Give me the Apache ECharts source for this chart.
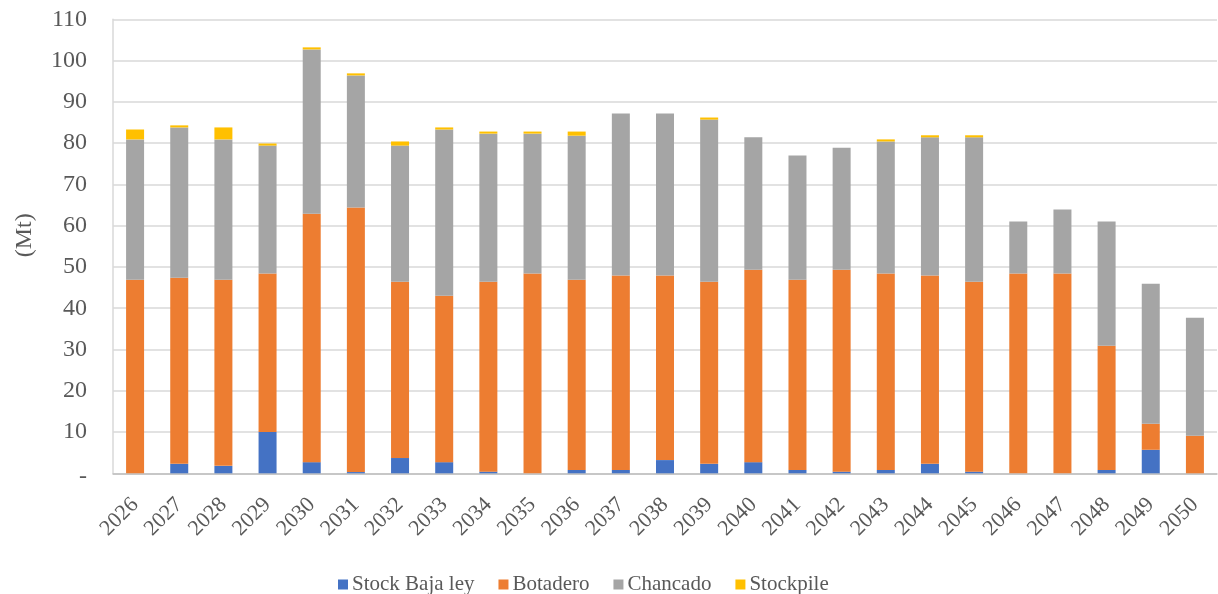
<!DOCTYPE html>
<html>
<head>
<meta charset="utf-8">
<script src="https://cdn.jsdelivr.net/npm/echarts@6/dist/echarts.min.js"></script>
<style>
  html, body { margin: 0; padding: 0; background: #ffffff; }
  #chart { width: 1218px; height: 594px; }
</style>
</head>
<body>
<div id="chart"></div>
<script>
// Annual tonnage by destination (Mt)
const years = ['2026','2027','2028','2029','2030','2031','2032','2033','2034','2035','2036','2037','2038',
               '2039','2040','2041','2042','2043','2044','2045','2046','2047','2048','2049','2050'];

const stockBajaLey = [0, 2.3, 1.8, 10.0, 2.7, 0.3, 3.7, 2.7, 0.4, 0, 0.8, 0.8, 3.2,
                      2.3, 2.7, 0.8, 0.4, 0.8, 2.3, 0.4, 0, 0, 0.8, 5.7, 0];
const botadero = [46.9, 45.1, 45.1, 38.4, 60.2, 64.1, 42.7, 40.3, 46.0, 48.4, 46.1, 47.1, 44.7,
                  44.1, 46.6, 46.1, 48.9, 47.6, 45.6, 46.0, 48.4, 48.4, 30.1, 6.3, 9.1];
const chancado = [34.0, 36.4, 34.0, 31.0, 39.8, 32.0, 33.0, 40.3, 35.9, 33.9, 34.9, 39.3, 39.3,
                  39.3, 32.1, 30.1, 29.6, 32.0, 33.5, 35.0, 12.6, 15.5, 30.1, 33.9, 28.6];
const stockpile = [2.4, 0.5, 2.9, 0.5, 0.5, 0.5, 1.0, 0.5, 0.5, 0.5, 1.0, 0, 0,
                   0.5, 0, 0, 0, 0.5, 0.5, 0.5, 0, 0, 0, 0, 0];

const yTicks = { min: 0, max: 110, step: 10 };

const seriesDefs = [
  { name: 'Stock Baja ley', data: stockBajaLey, color: '#4472C4' },
  { name: 'Botadero',       data: botadero,     color: '#ED7D31' },
  { name: 'Chancado',       data: chancado,     color: '#A5A5A5' },
  { name: 'Stockpile',      data: stockpile,    color: '#FFC000' }
];

const FONT = '"Liberation Serif", "DejaVu Serif", serif';
const TXT = '#595959';

const chart = echarts.init(document.getElementById('chart'), null, { renderer: 'canvas' });

chart.setOption({
  backgroundColor: '#ffffff',
  animation: false,
  grid: { left: 113, right: 1, top: 19.3, bottom: 120.7, containLabel: false },
  legend: {
    data: seriesDefs.map(s => s.name),
    left: 333,
    top: 569,
    icon: 'rect',
    itemWidth: 10,
    itemHeight: 10,
    itemGap: 24,
    textStyle: { fontFamily: FONT, fontSize: 21, color: TXT, padding: [0, 0, 0, -1] }
  },
  xAxis: {
    type: 'category',
    data: years,
    axisLine: { show: true, lineStyle: { color: '#BFBFBF', width: 1.5 } },
    axisTick: { show: false },
    axisLabel: {
      rotate: 45,
      margin: 28,
      interval: 0,
      fontFamily: FONT,
      fontSize: 22,
      color: TXT
    }
  },
  yAxis: {
    type: 'value',
    min: yTicks.min,
    max: yTicks.max,
    interval: yTicks.step,
    name: '(Mt)',
    nameLocation: 'middle',
    nameGap: 76,
    nameRotate: 90,
    nameTextStyle: { fontFamily: FONT, fontSize: 24, color: TXT, padding: [0, 0, 0, 22] },
    axisLine: { show: true, lineStyle: { color: '#D9D9D9', width: 1.5 } },
    axisTick: { show: false },
    splitLine: { show: true, lineStyle: { color: '#D9D9D9', width: 1.5 } },
    axisLabel: {
      margin: 26,
      fontFamily: FONT,
      fontSize: 24,
      color: TXT,
      // zero is shown as a dash, set slightly below the baseline
      formatter: v => (v === 0 ? '{z|-}' : String(v)),
      rich: { z: { fontFamily: FONT, fontSize: 24, color: TXT, padding: [6, 0, 0, 0] } }
    }
  },
  series: seriesDefs.map(s => ({
    name: s.name,
    type: 'bar',
    stack: 'total',
    data: s.data,
    barWidth: 18,
    itemStyle: { color: s.color },
    emphasis: { disabled: true }
  }))
});
</script>
</body>
</html>
